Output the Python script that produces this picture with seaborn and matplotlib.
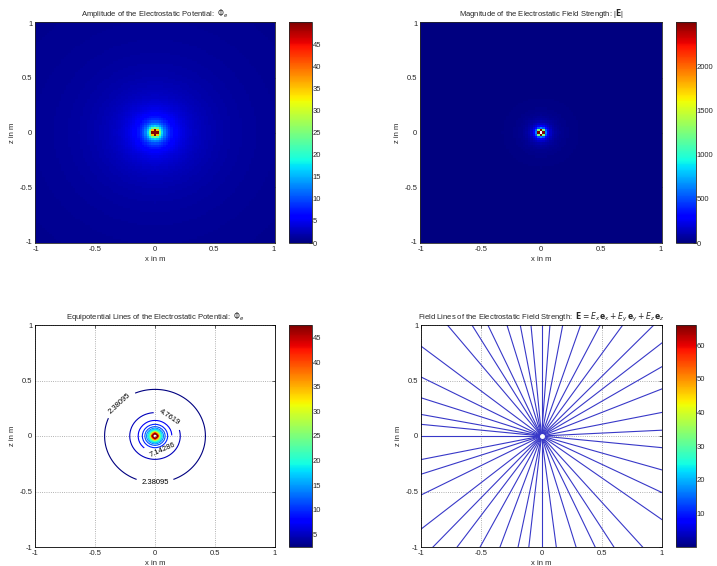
import numpy as np
import pandas as pd
import matplotlib
matplotlib.use("Agg")
import matplotlib.pyplot as plt
import seaborn as sns

# point charge at the origin, potential phi = k / r, field |E| = k / r^2
charge_k = 1.0
grid_x = np.linspace(-1, 1, 101)
grid_z = np.linspace(-1, 1, 101)
tick_vals = [-1, -0.5, 0, 0.5, 1]
tick_text = ['-1', '-0.5', '0', '0.5', '1']

phi_max = 50.0
n_levels = 20
label_levels = 3
label_pos = [(-0.3, 0.3), (0.0, -0.42), (0.12, 0.17), (0.06, -0.13)]

# angles (deg) of the drawn field lines
line_angles = [128, 120, 114, 106, 100, 95, 90, 86, 80, 72, 64, 56, 47,
               40, 32, 23, 12, 3, -6, -17, -27, -37,
               -50, -59, -66, -74, -83, -90, -96, -101, -109, -117, -125, -132,
               141, 152, 161, 169, 174, 180, -168, -161, -152, -140]
field_cbar_max = 66

titles = ['Amplitude of the Electrostatic Potential:  $\\Phi_e$',
          'Magnitude of the Electrostatic Field Strength: |$\\mathbf{E}$|',
          'Equipotential Lines of the Electrostatic Potential:  $\\Phi_e$',
          'Field Lines of the Electrostatic Field Strength:  '
          '$\\mathbf{E}=E_x\\,\\mathbf{e}_x+E_y\\,\\mathbf{e}_y+E_z\\,\\mathbf{e}_z$']

sns.set_style('white')
plt.rcParams['font.family'] = ['Liberation Sans', 'DejaVu Sans']
plt.rcParams['mathtext.fontset'] = 'dejavusans'
plt.rcParams['xtick.direction'] = 'in'
plt.rcParams['ytick.direction'] = 'in'
fs = 5.5

X, Z = np.meshgrid(grid_x, grid_z)
R = np.sqrt(X ** 2 + Z ** 2)
with np.errstate(divide='ignore'):
    phi = charge_k / R
    efield = charge_k / R ** 2
phi[R == 0] = phi_max
efield[R == 0] = np.nan

fig = plt.figure(figsize=(7.17, 5.66), dpi=100)
W, H = 717, 566


def box(x0, y0, x1, y1):
    return [x0 / W, (H - y1) / H, (x1 - x0) / W, (y1 - y0) / H]


ax1 = fig.add_axes(box(35, 22, 275, 243))
cax1 = fig.add_axes(box(289, 22, 312, 243))
ax2 = fig.add_axes(box(420, 22, 662, 243))
cax2 = fig.add_axes(box(676, 22, 696, 243))
ax3 = fig.add_axes(box(35, 325, 275, 547))
cax3 = fig.add_axes(box(289, 325, 312, 547))
ax4 = fig.add_axes(box(421, 325, 662, 547))
cax4 = fig.add_axes(box(676, 325, 696, 547))


def style_cbar(cax):
    cax.tick_params(labelsize=fs, direction='in', length=2, width=0.5, pad=0.5)
    for s in cax.spines.values():
        s.set_linewidth(0.6)


def heat(ax, cax, data, vmax, cticks):
    df = pd.DataFrame(data[::-1], index=grid_z[::-1], columns=grid_x)
    sns.heatmap(df, ax=ax, cbar_ax=cax, cmap='jet', vmin=0, vmax=vmax,
                xticklabels=False, yticklabels=False, rasterized=True)
    n = len(grid_x)
    pos = [(v + 1) / 2 * (n - 1) + 0.5 for v in tick_vals]
    ax.set_xticks(pos)
    ax.set_xticklabels(tick_text, fontsize=fs, rotation=0)
    ax.set_yticks(pos[::-1])
    ax.set_yticklabels(tick_text, fontsize=fs, rotation=0)
    for s in ax.spines.values():
        s.set_visible(True)
        s.set_linewidth(0.6)
    cax.set_yticks(cticks)
    style_cbar(cax)


heat(ax1, cax1, phi, phi_max, [0, 5, 10, 15, 20, 25, 30, 35, 40, 45])
heat(ax2, cax2, efield, phi_max ** 2, [0, 500, 1000, 1500, 2000])

levels = phi_max * np.arange(1, n_levels + 1) / (n_levels + 1)
cs = ax3.contour(X, Z, phi, levels=levels, cmap='jet',
                 vmin=levels[0], vmax=levels[-1], linewidths=0.8)
ax3.clabel(cs, levels=levels[:label_levels], fmt='%g', fontsize=fs,
           colors='black', inline=True, manual=label_pos)
sm = plt.cm.ScalarMappable(cmap='jet',
                           norm=plt.Normalize(levels[0], levels[-1]))
cb3 = fig.colorbar(sm, cax=cax3)
cb3.set_ticks([5, 10, 15, 20, 25, 30, 35, 40, 45])
cb3.outline.set_linewidth(0.6)
style_cbar(cax3)

rows = []
for i, a in enumerate(line_angles):
    t = np.deg2rad(a)
    for r in (0.0, 1.6):
        rows.append({'x': r * np.cos(t), 'y': r * np.sin(t), 'line': i})
lines = pd.DataFrame(rows)
sns.lineplot(data=lines, x='x', y='y', units='line', estimator=None,
             sort=False, color='#3838c8', linewidth=0.8, ax=ax4)
ax4.plot([0], [0], 'o', color='white', markersize=2.5)
sm4 = plt.cm.ScalarMappable(cmap='jet', norm=plt.Normalize(0, field_cbar_max))
cb4 = fig.colorbar(sm4, cax=cax4)
cb4.set_ticks([10, 20, 30, 40, 50, 60])
cb4.outline.set_linewidth(0.6)
style_cbar(cax4)

for ax in (ax3, ax4):
    ax.set_xlim(-1, 1)
    ax.set_ylim(-1, 1)
    ax.set_xticks(tick_vals)
    ax.set_xticklabels(tick_text)
    ax.set_yticks(tick_vals)
    ax.set_yticklabels(tick_text)
    ax.grid(True, linestyle=':', color='#999999', linewidth=0.6)
    for s in ax.spines.values():
        s.set_linewidth(0.6)
        s.set_color('black')

for ax, t in zip((ax1, ax2, ax3, ax4), titles):
    ax.set_title(t, fontsize=fs, pad=4)
    ax.set_xlabel('x in m', fontsize=fs, labelpad=2)
    ax.set_ylabel('z in m', fontsize=fs, labelpad=2)
    ax.tick_params(labelsize=fs, length=2, width=0.5, pad=2,
                   direction='in', top=True, right=True)

fig.savefig('out.png', dpi=100)
